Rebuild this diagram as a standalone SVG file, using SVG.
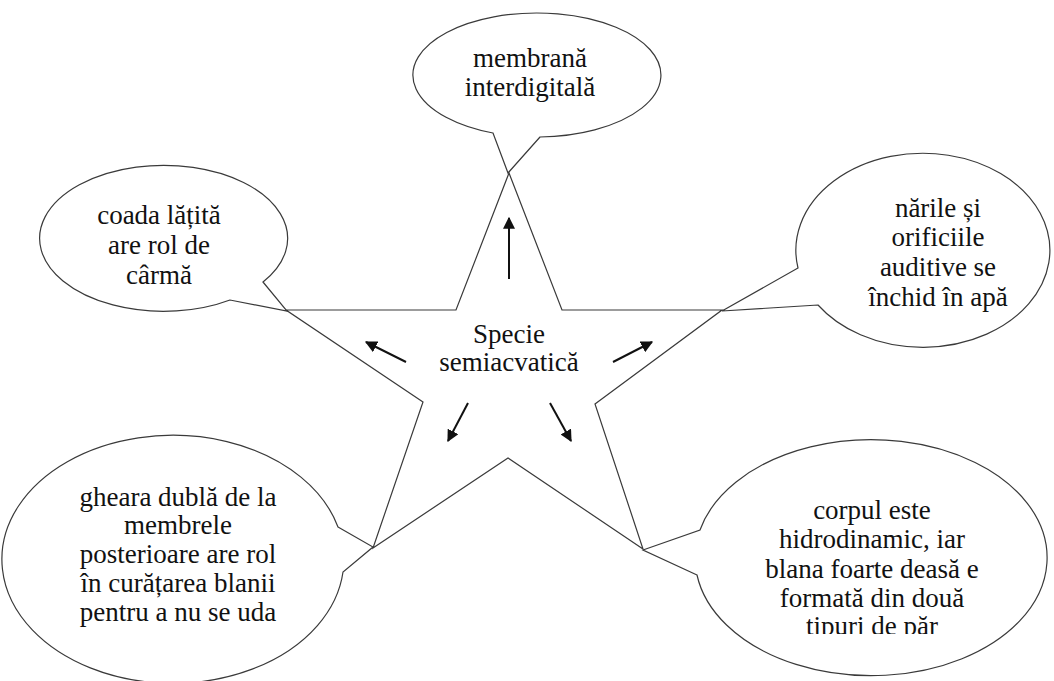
<svg xmlns="http://www.w3.org/2000/svg" width="1054" height="681" viewBox="0 0 1054 681">
<style>
.shape{fill:#fff;stroke:#3a3a3a;stroke-width:1.2;stroke-linejoin:miter}
.star{fill:none;stroke:#3a3a3a;stroke-width:1.2}
.t{font-size:27px;fill:#111;text-anchor:middle}
.arr{stroke:#111;stroke-width:2;fill:none;marker-end:url(#ah)}
</style>
<defs>
<marker id="ah" viewBox="0 0 10 10" refX="9" refY="5" markerWidth="6" markerHeight="6" markerUnits="strokeWidth" orient="auto">
<path d="M0,0 L10,5 L0,10 Z" fill="#111"/>
</marker>
<clipPath id="clipBR"><rect x="690" y="440" width="364" height="194"/></clipPath>
</defs>
<rect width="1054" height="681" fill="#fff"/>
<g font-family="'Liberation Serif', 'Times New Roman', 'DejaVu Serif', serif">
<g id="star">
<polygon class="star" points="509,173 562,310 722,310 595,404 643,549 508,458 373,548 423,402 286,310 456,310"/>
<text class="t" x="509" y="343">Specie</text>
<text class="t" x="509" y="371">semiacvatică</text>
</g>
<g id="connectors">
<line class="arr" x1="509" y1="279" x2="509" y2="218"/>
<line class="arr" x1="406" y1="362" x2="366" y2="342"/>
<line class="arr" x1="613" y1="362" x2="652" y2="342"/>
<line class="arr" x1="468" y1="403" x2="448" y2="441"/>
<line class="arr" x1="550" y1="403" x2="571" y2="441"/>
</g>
<g id="top">
<path class="shape" d="M540,137 L508,173 L493,133 A124 62 0 1 1 540,137 Z"/>
<text class="t" x="530" y="67">membrană</text>
<text class="t" x="530" y="96">interdigitală</text>
</g>
<g id="left">
<path class="shape" d="M263,282 L287,311 L230,300 A124 73 0 1 1 263,282 Z"/>
<text class="t" x="159" y="224">coada lățită</text>
<text class="t" x="159" y="254">are rol de</text>
<text class="t" x="159" y="284">cârmă</text>
</g>
<g id="right">
<path class="shape" d="M818,305 L722,311 L798,268 A127 97 0 1 1 818,305 Z"/>
<text class="t" x="938" y="217">nările și</text>
<text class="t" x="938" y="246">orificiile</text>
<text class="t" x="938" y="276">auditive se</text>
<text class="t" x="938" y="306">închid în apă</text>
</g>
<g id="bottomleft">
<path class="shape" d="M338,527 L373,547 L343,572 A171 124 0 1 1 338,527 Z"/>
<text class="t" x="178" y="506">gheara dublă de la</text>
<text class="t" x="178" y="534">membrele</text>
<text class="t" x="178" y="563">posterioare are rol</text>
<text class="t" x="178" y="592">în curățarea blanii</text>
<text class="t" x="178" y="621">pentru a nu se uda</text>
</g>
<g id="bottomright">
<path class="shape" d="M697,575 L643,550 L700,530 A176 118 0 1 1 697,575 Z"/>
<g clip-path="url(#clipBR)">
<text class="t" x="872" y="519">corpul este</text>
<text class="t" x="872" y="548">hidrodinamic, iar</text>
<text class="t" x="872" y="578">blana foarte deasă e</text>
<text class="t" x="872" y="607">formată din două</text>
<text class="t" x="872" y="635">tipuri de păr</text>
</g>
</g>
</g>
</svg>
